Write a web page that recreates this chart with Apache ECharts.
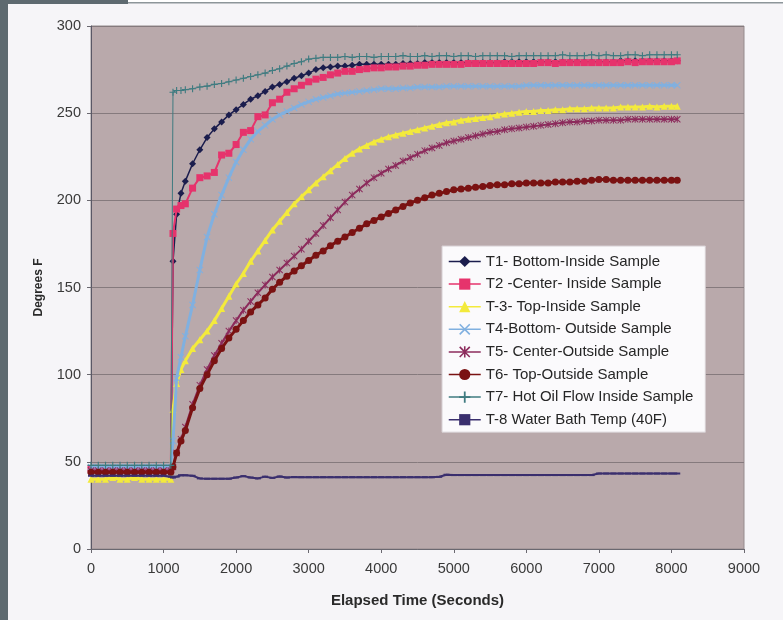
<!DOCTYPE html>
<html>
<head>
<meta charset="utf-8">
<script src="https://cdn.jsdelivr.net/npm/echarts@6/dist/echarts.min.js"></script>
<style>
html,body{margin:0;padding:0;background:#f6f5f8;}
#c{width:783px;height:620px;}
</style>
</head>
<body>
<div id="c"></div>
<script>
// Elapsed time (seconds)
const times = [
  0,100,200,300,400,500,600,700,800,900,1000,
  1100,1130,1180,1240,
  1300,1400,1500,1600,1700,1800,1900,2000,
  2100,2200,2300,2400,2500,2600,2700,2800,2900,3000,
  3100,3200,3300,3400,3500,3600,3700,3800,3900,4000,
  4100,4200,4300,4400,4500,4600,4700,4800,4900,5000,
  5100,5200,5300,5400,5500,5600,5700,5800,5900,6000,
  6100,6200,6300,6400,6500,6600,6700,6800,6900,7000,
  7100,7200,7300,7400,7500,7600,7700,7800,7900,8000,
  8080
];

const seriesNames = [
  'T1- Bottom-Inside Sample',
  'T2 -Center- Inside Sample',
  'T-3- Top-Inside Sample',
  'T4-Bottom- Outside Sample',
  'T5- Center-Outside Sample',
  'T6- Top-Outside Sample',
  'T7- Hot Oil Flow Inside Sample',
  'T-8 Water Bath Temp (40F)'
];

const t1 = [
  45,45,46,45,45,45,46,45,45,45,45,
  45,165,192,204,
  211,221,229,236,241,245,249,252,
  255,258,260,262.5,265,266.5,268,270,271.5,273,
  275,276,276.5,277,277,277.5,278,278,278,278,
  278,278,278.5,278.5,278.5,279,279,279,279,279,
  279,279,279,279,279,279,279.5,279.5,279.5,279.5,
  279.5,279.5,279.5,279.5,279.5,279.5,279.5,279.5,279.5,279.5,
  279.5,279.5,280,280,280,280,280,280,280,280,
  280
];
const t2 = [
  46,46,46,46,46,46,46,46,46,46,46,
  46,181,195,197,
  198,207,213,214,216,226,227,232,
  239,240,248,249,256,258,262,264,266,268,
  269.5,270.5,272,273,274,274,275,275.5,276,276,
  276.5,276.5,277,277,277.5,277.5,278,278,278,278,
  278,278.5,278.5,278.5,278.5,278.5,278.5,278.5,278.5,278.5,
  278.5,279,279,278.5,279,279,279,279,279,279,
  279,279,279,279.5,279,279.5,279.5,279.5,279.5,279.5,
  280
];
const t3 = [
  40,40,40,41,40,40,41,40,40,40,40,
  40,80,95,103,
  108,115,120,125,131,138,145,152,
  158,165,171,177,183,188,193,198,202,206,
  210,213.5,217,220.5,224,227,229.5,231.5,233.5,235,
  236.5,237.5,238.5,239.5,240.5,241.5,242.5,243.5,244.5,245,
  246,246.5,247,247.5,248,249,249.5,250,250.5,251,
  251,251.5,251.5,252,252,252.5,252.5,252.5,253,253,
  253,253,253.5,253.5,253.5,253.5,254,253.5,254,254,
  254
];
const t4 = [
  47,47,47,47,47,47,47,47,47,47,47,
  47,62,98,110,
  122,140,160,179,192,203,213,222,
  229,235,239.5,243,246.5,249,251,253,255,256.5,
  258,259,260,261,261.5,262,262.5,263,263.5,264,
  264,264,264.5,264.5,265,265,265,265,265.5,265.5,
  265.5,265.5,265.5,265.5,265.5,265.5,265.5,265.5,265.5,266,
  266,266,266,266,266,266,266,266,266,266,
  266,266,266,266,266,266,266,266,266,266,
  266
];
const t5 = [
  45,45,45,45,45,45,45,45,45,45,45,
  45,47,55,63,
  70,83,94,103,111,118,125,131,
  137,142,147,151.5,156,160,164,168,172,176.5,
  181,185.5,190,194.5,199,203,206.5,210,213,215.5,
  218,220,222.5,224.5,226.5,228.5,230,231.5,233,234,
  235,236,237,238,239,239.5,240.5,241,241.5,242,
  242.5,243,243.5,244,244.5,245,245,245.5,245.5,246,
  246,246,246,246.5,246.5,246.5,246.5,246.5,246.5,246.5,
  246.5
];
const t6 = [
  44,44,44,44,44,44,44,44,44,44,44,
  44,47,55,62,
  68,81,92,100,108,115,121,126,
  131,136,140,144,149,153,156.5,159.5,162.5,165.5,
  168.5,171,174,176.5,179,181.5,184,186.5,188.5,190.5,
  192.5,194.5,196.5,198.5,200,201.5,203,204,205,206,
  206.5,207,207.5,208,208.5,209,209,209.5,209.5,210,
  210,210,210,210.5,210.5,210.5,211,211,211.5,212,
  212,211.5,211.5,211.5,211.5,211.5,211.5,211.5,211.5,211.5,
  211.5
];
const t7 = [
  48,48,48,48,48,48,48,48,48,48,48,
  48,262,263,263,
  263.5,264,265,265.5,266.5,267,268,269,
  270,271,272,273,274.5,275.5,277,278.5,279.5,281,
  281.5,282,282,282,282.5,282,282.5,282.5,282,282.5,
  282.5,282.5,283,282.5,282.5,283,282.5,283,283,282.5,
  283,283,282.5,283,283,283,283,282.5,283,283,
  283,283,283,283,283.5,283,283,283,283.5,283,
  283.5,283,283,283.5,283.5,283,283.5,283.5,283.5,283.5,
  283.5
];
const t8 = [
  42,42,42,42,42,42,42,42,42,42,42,
  41.5,41,41.5,42.3,
  42.3,42,40.5,40.3,40.3,40.3,40.3,41,
  41.8,41,40.5,41.5,40.8,41.6,41,41.3,41.2,41.2,
  41.2,41.2,41.2,41.2,41.2,41.2,41.2,41.2,41.2,41.2,
  41.2,41.2,41.2,41.2,41.2,41.2,41.2,41.4,42.6,42.4,
  42.4,42.4,42.4,42.4,42.4,42.4,42.4,42.4,42.4,42.4,
  42.4,42.4,42.4,42.4,42.4,42.4,42.4,42.4,42.4,43.3,
  43.3,43.3,43.3,43.3,43.3,43.3,43.3,43.3,43.3,43.3,
  43.3
];

const xTicks = [0,1000,2000,3000,4000,5000,6000,7000,8000,9000];
const yTicks = [0,50,100,150,200,250,300];

const allValues = [t1,t2,t3,t4,t5,t6,t7,t8];

const colors = ['#1b1d4d','#e6336c','#f3ea3c','#80b0e0','#8c2b5c','#7a1212','#3f7b80','#3a2f6e'];
const SYM_X = 'path://M1,0L5,4L9,0L10,1L6,5L10,9L9,10L5,6L1,10L0,9L4,5L0,1Z';
const SYM_STAR = 'path://M1,0L5,4L9,0L10,1L6,5L10,9L9,10L5,6L1,10L0,9L4,5L0,1Z M4.3,0H5.7V10H4.3Z';
const SYM_PLUS = 'path://M4.2,0H5.8V4.2H10V5.8H5.8V10H4.2V5.8H0V4.2H4.2Z';
const SYM_DASH = 'path://M0,0H10V2H0Z';
const symbols = ['diamond','rect','triangle',SYM_X,SYM_STAR,'circle',SYM_PLUS,SYM_DASH];
const symbolSizes = [7,7,7,7,7,7,7,[6,2]];
const lineWidths = [1.5,2,3,3,2,3,1,2];

const FONT = '"Liberation Sans", Arial, sans-serif';

const series = allValues.map((vals, i) => ({
  name: seriesNames[i],
  type: 'line',
  data: times.map((t, k) => [t, vals[k]]),
  symbol: symbols[i],
  symbolSize: symbolSizes[i],
  showSymbol: true,
  showAllSymbol: true,
  lineStyle: { color: colors[i], width: lineWidths[i] },
  itemStyle: { color: colors[i] },
  emphasis: { disabled: true },
  z: 2 + i
}));

const chart = echarts.init(document.getElementById('c'), null, { renderer: 'canvas' });
chart.setOption({
  animation: false,
  backgroundColor: '#f6f5f8',
  graphic: [
    { type: 'rect', shape: { x: 0, y: 0, width: 8, height: 620 }, style: { fill: '#5e6a70' }, z: 100 },
    { type: 'rect', shape: { x: 0, y: 0, width: 128, height: 4 }, style: { fill: '#5e6a70' }, z: 100 },
    { type: 'rect', shape: { x: 128, y: 0, width: 655, height: 2 }, style: { fill: '#ffffff' }, z: 100 },
    { type: 'rect', shape: { x: 128, y: 2, width: 655, height: 1.5 }, style: { fill: '#8d969a' }, z: 100 }
  ],
  grid: {
    left: 91, right: 39, top: 26, bottom: 71,
    show: true,
    backgroundColor: '#b9a9ab',
    borderColor: '#958b8d',
    borderWidth: 1
  },
  legend: {
    orient: 'vertical',
    left: 442, top: 246,
    padding: [8, 12, 5, 6],
    itemWidth: 32, itemHeight: 14,
    itemGap: 7.6,
    backgroundColor: '#fbfafc',
    borderColor: '#d6ced2',
    borderWidth: 1,
    lineStyle: { width: 1.5 },
    textStyle: { fontFamily: FONT, fontSize: 15, color: '#262626' },
    data: seriesNames
  },
  xAxis: {
    type: 'value',
    min: 0, max: 9000, interval: 1000,
    name: 'Elapsed Time (Seconds)',
    nameLocation: 'middle',
    nameGap: 44,
    nameTextStyle: { fontFamily: FONT, fontSize: 15, fontWeight: 'bold', color: '#2a2a2a' },
    axisLine: { show: true, onZero: false, lineStyle: { color: '#6a6870', width: 1 } },
    axisTick: { show: true, length: 4, lineStyle: { color: '#6a6870' } },
    axisLabel: { fontFamily: FONT, fontSize: 14.5, color: '#3a3a3a', margin: 12,
      formatter: v => xTicks.includes(v) ? String(v) : '' },
    splitLine: { show: false }
  },
  yAxis: {
    type: 'value',
    min: 0, max: 300, interval: 50,
    name: 'Degrees F',
    nameLocation: 'middle',
    nameGap: 46,
    nameTextStyle: { fontFamily: FONT, fontSize: 12, fontWeight: 'bold', color: '#2a2a2a' },
    axisLine: { show: true, lineStyle: { color: '#5a5866', width: 1 } },
    axisTick: { show: true, length: 4, lineStyle: { color: '#6a6870' } },
    axisLabel: { fontFamily: FONT, fontSize: 14.5, color: '#3a3a3a', margin: 10,
      formatter: v => yTicks.includes(v) ? String(v) : '' },
    splitLine: { show: true, lineStyle: { color: '#857a7d', width: 1 } }
  },
  series: series
});
</script>
</body>
</html>
